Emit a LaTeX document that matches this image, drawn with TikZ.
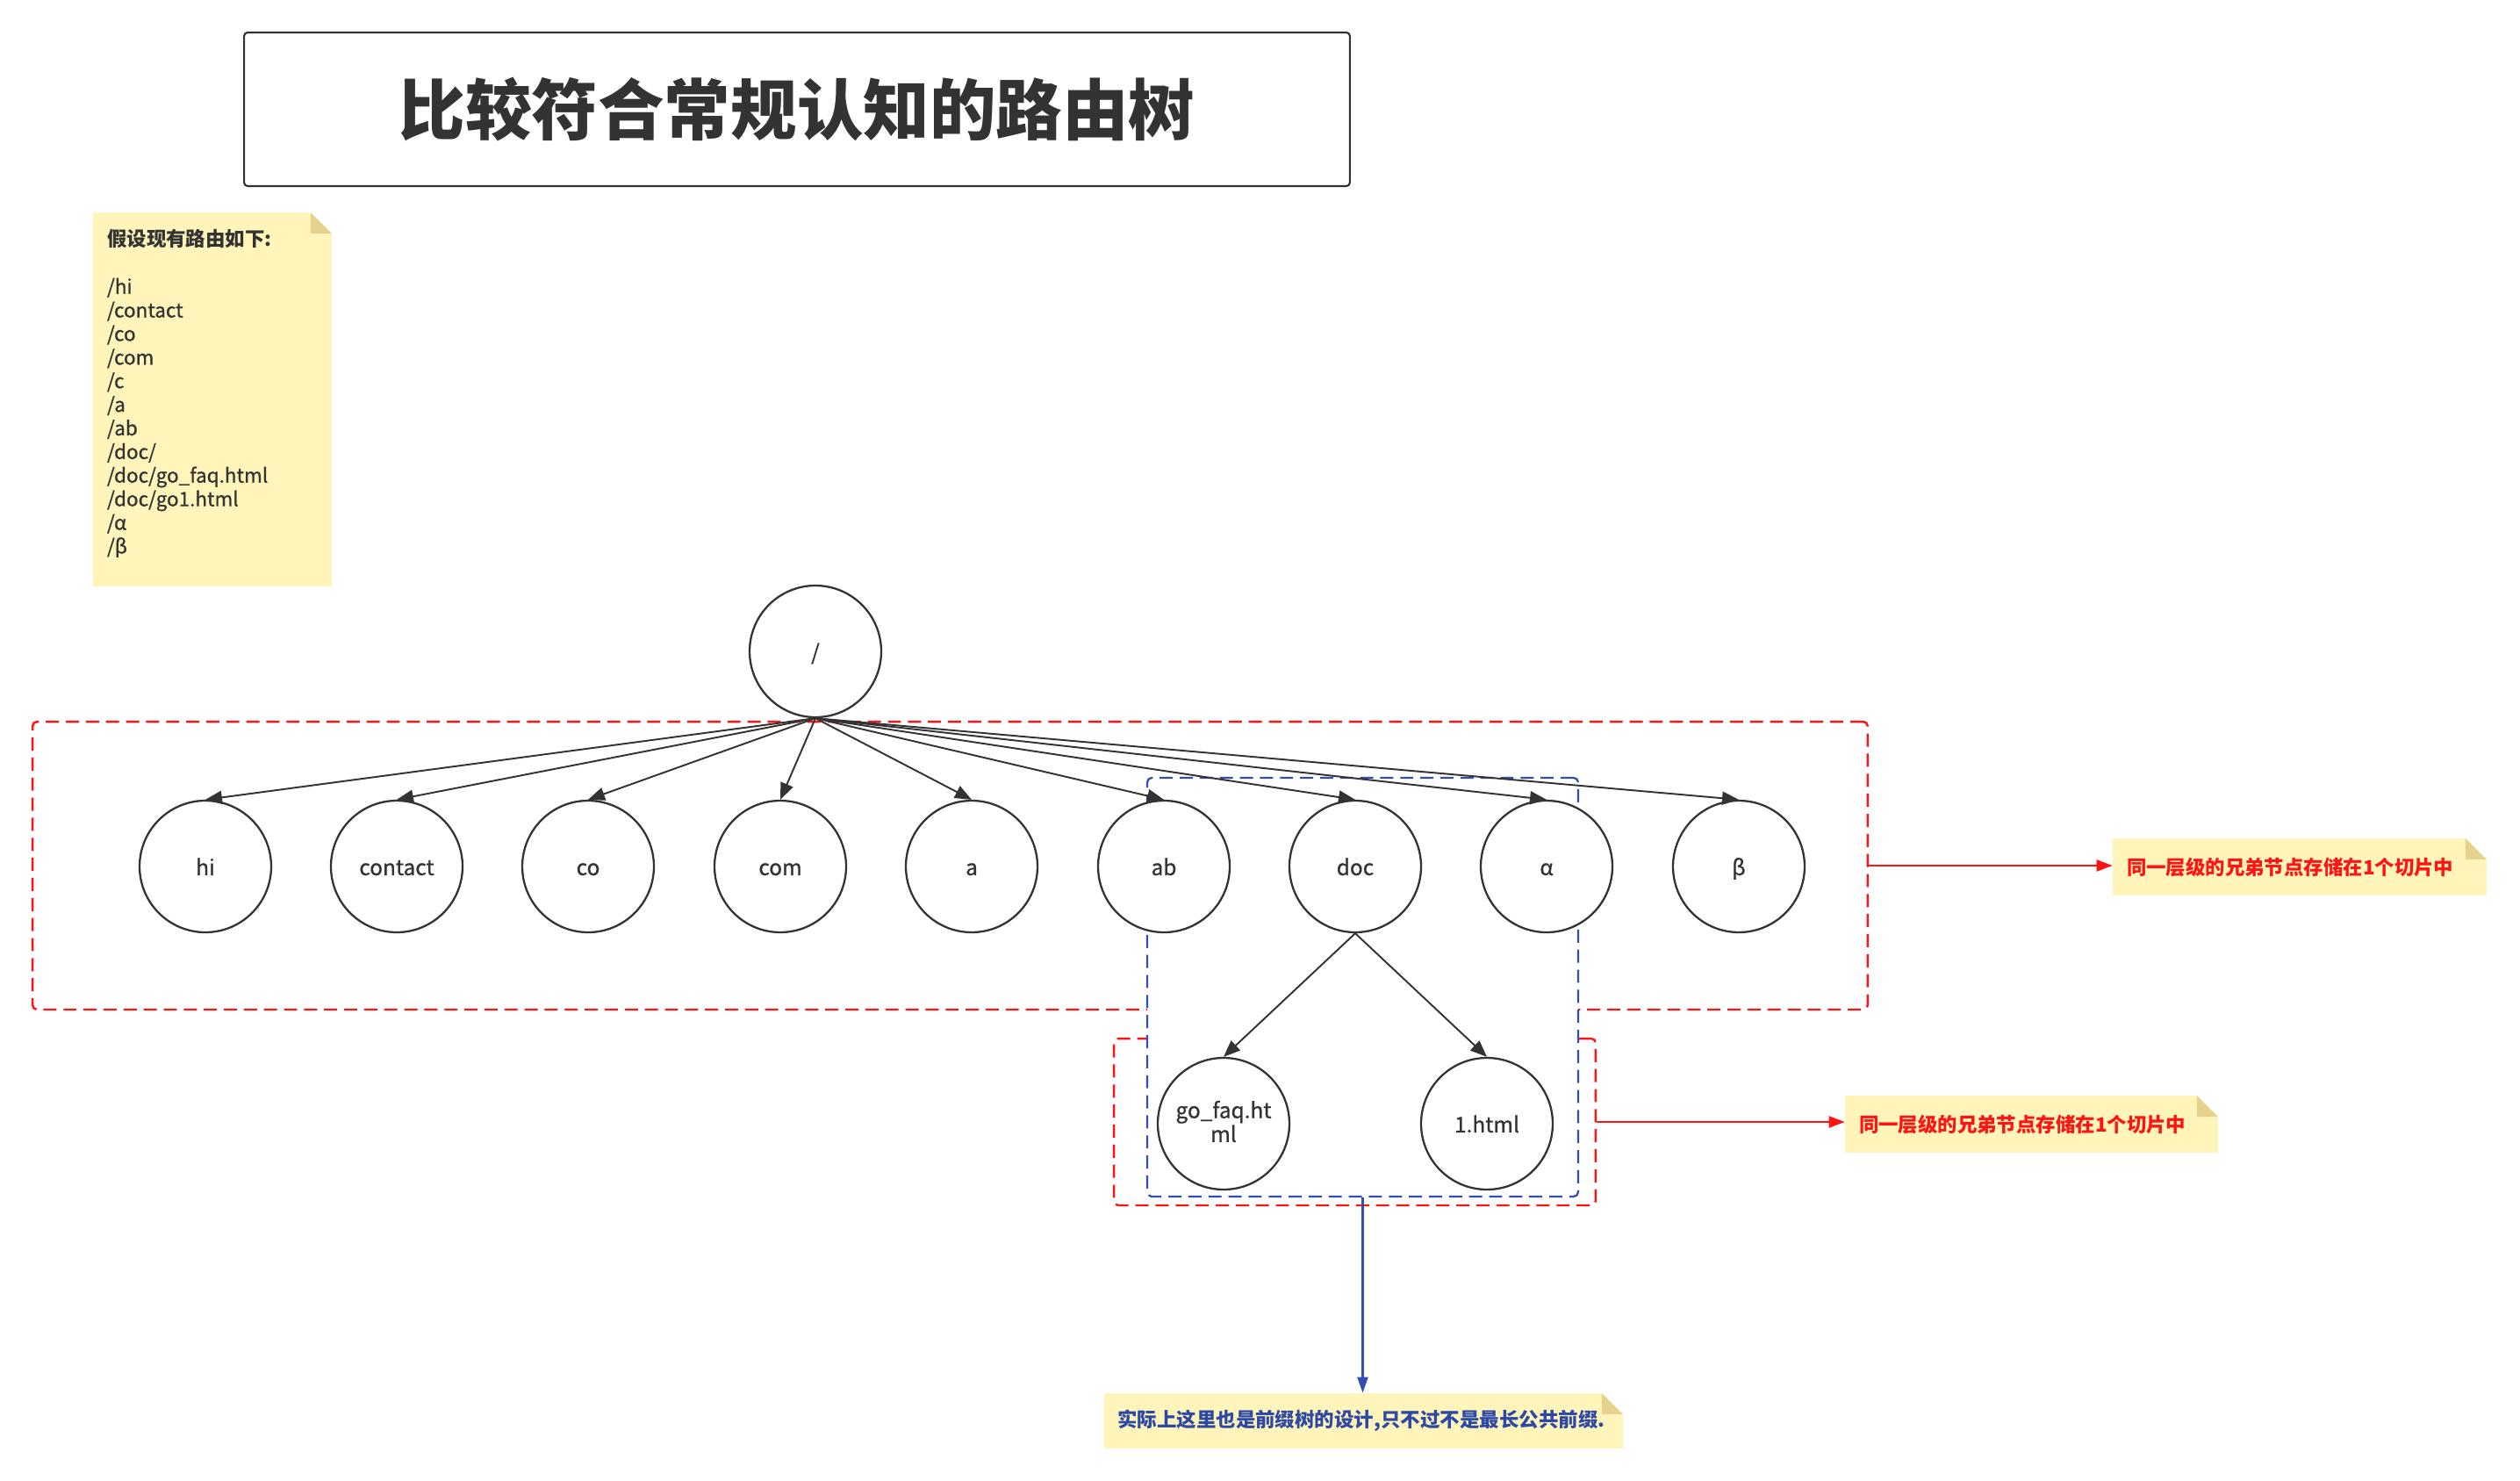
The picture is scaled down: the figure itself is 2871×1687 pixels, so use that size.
\documentclass[tikz,border=0pt]{standalone}
\usepackage{fontspec}
\newfontfamily\cjk{Noto Sans CJK SC}
\newfontfamily\cjkmid[FakeBold=0.8]{Noto Sans CJK SC}
\usetikzlibrary{arrows.meta}

\definecolor{ink}{RGB}{51,51,51}
\definecolor{dashred}{RGB}{255,20,20}
\definecolor{dashblue}{RGB}{50,78,176}
\definecolor{notebg}{RGB}{255,245,187}
\definecolor{notefold}{RGB}{229,210,140}
\definecolor{noteblue}{RGB}{45,72,165}

\begin{document}
\begin{tikzpicture}[x=0.02cm,y=-0.02cm,
  every node/.style={font=\cjk, text=ink},
  treenode/.style={circle, draw=ink, line width=1.3pt, fill=white,
    minimum size=3cm, inner sep=0pt, align=center,
    font=\cjkmid\fontsize{13.9}{15.5}\selectfont,
    execute at begin node={\rule[-0.22em]{0pt}{1.25em}}},
  link/.style={draw=ink, line width=1.1pt, -{Triangle[length=0.38cm,width=0.3cm]}},
  redgroup/.style={draw=dashred, line width=1.4pt, dash pattern=on 8.5pt off 4.5pt,
    rounded corners=0.1cm, inner sep=0pt},
  bluegroup/.style={draw=dashblue, fill=white, line width=1.3pt,
    dash pattern=on 8.5pt off 4.5pt, rounded corners=0.1cm, inner sep=0pt},
  redarrow/.style={draw=dashred, line width=1.3pt, -{Triangle[length=0.36cm,width=0.26cm]}},
  bluearrow/.style={draw=dashblue, line width=1.3pt, -{Triangle[length=0.36cm,width=0.24cm]}},
  sticky/.style={fill=notebg, inner ysep=0pt, align=left,
    path picture={
      \fill[white] ([xshift=-0.48cm]path picture bounding box.north east)
        -- (path picture bounding box.north east)
        -- ([yshift=-0.48cm]path picture bounding box.north east) -- cycle;
      \fill[notefold] ([xshift=-0.48cm]path picture bounding box.north east)
        -- ([xshift=-0.48cm,yshift=-0.48cm]path picture bounding box.north east)
        -- ([yshift=-0.48cm]path picture bounding box.north east) -- cycle;
    }},
  titlebox/.style={draw=ink, line width=1.2pt, rounded corners=0.08cm,
    minimum width=25.2cm, minimum height=3.5cm, inner sep=0pt,
    font=\cjk\bfseries\fontsize{43}{50}\selectfont}
]
\useasboundingbox (0,0) rectangle (2871,1687);

% heading
\node[titlebox] (title) at (908,124.5) {比较符合常规认知的路由树};

% list of routes
\node[sticky, text width=4.8cm, inner xsep=0.32cm, minimum height=8.52cm,
  font=\cjkmid\fontsize{12.8}{15.3}\selectfont] (routes) at (242,455)
  {{\cjk\bfseries 假设现有路由如下:}\\[15.3pt]
   /hi\\ /contact\\ /co\\ /com\\ /c\\ /a\\ /ab\\ /doc/\\
   /doc/go\_faq.html\\ /doc/go1.html\\ /α\\ /β\rule[-0.36cm]{0pt}{0pt}};

% slice groups
\node[redgroup, minimum width=41.82cm, minimum height=6.56cm] (level1) at (1082.5,986) {};
\node[redgroup, minimum width=10.98cm, minimum height=3.8cm] (level2) at (1543.5,1278) {};
\node[bluegroup, minimum width=9.82cm, minimum height=9.54cm] (prefix) at (1552.5,1124.5) {};

% tree
\node[treenode] (root) at (929,742) {/};
\node[treenode] (hi) at (234,987) {hi};
\node[treenode] (contact) at (452,987) {contact};
\node[treenode] (co) at (670,987) {co};
\node[treenode] (com) at (889,987) {com};
\node[treenode] (a) at (1107,987) {a};
\node[treenode] (ab) at (1326,987) {ab};
\node[treenode] (doc) at (1544,987) {doc};
\node[treenode] (alpha) at (1762,987) {α};
\node[treenode] (beta) at (1981,987) {β};
\node[treenode] (gofaq) at (1394,1280) {go\_faq.ht\\ml};
\node[treenode] (html) at (1694,1280) {1.html};

\foreach \child in {hi,contact,co,com,a,ab,doc,alpha,beta}
  \draw[link] (root.south) -- (\child.north);
\draw[link] (doc.south) -- (gofaq.north);
\draw[link] (doc.south) -- (html.north);

% annotations
\node[sticky, text width=7.88cm, inner xsep=0.32cm, minimum height=1.3cm,
  font=\cjk\bfseries\fontsize{12.76}{15}\selectfont, text=dashred] (note1) at (2620,987.5)
  {同一层级的兄弟节点存储在1个切片中};
\node[sticky, text width=7.86cm, inner xsep=0.32cm, minimum height=1.3cm,
  font=\cjk\bfseries\fontsize{12.76}{15}\selectfont, text=dashred] (note2) at (2314.5,1280.5)
  {同一层级的兄弟节点存储在1个切片中};
\node[sticky, text width=11.22cm, inner xsep=0.3cm, minimum height=1.26cm,
  font=\cjk\bfseries\fontsize{12.8}{15}\selectfont, text=noteblue] (note3) at (1553.5,1618.5)
  {实际上这里也是前缀树的设计,只不过不是最长公共前缀.};

\draw[redarrow] (level1.east) -- (level1.east -| note1.west);
\draw[redarrow] (level2.east) -- (level2.east -| note2.west);
\draw[bluearrow] (prefix.south) -- (prefix.south |- note3.north);
\end{tikzpicture}
\end{document}
